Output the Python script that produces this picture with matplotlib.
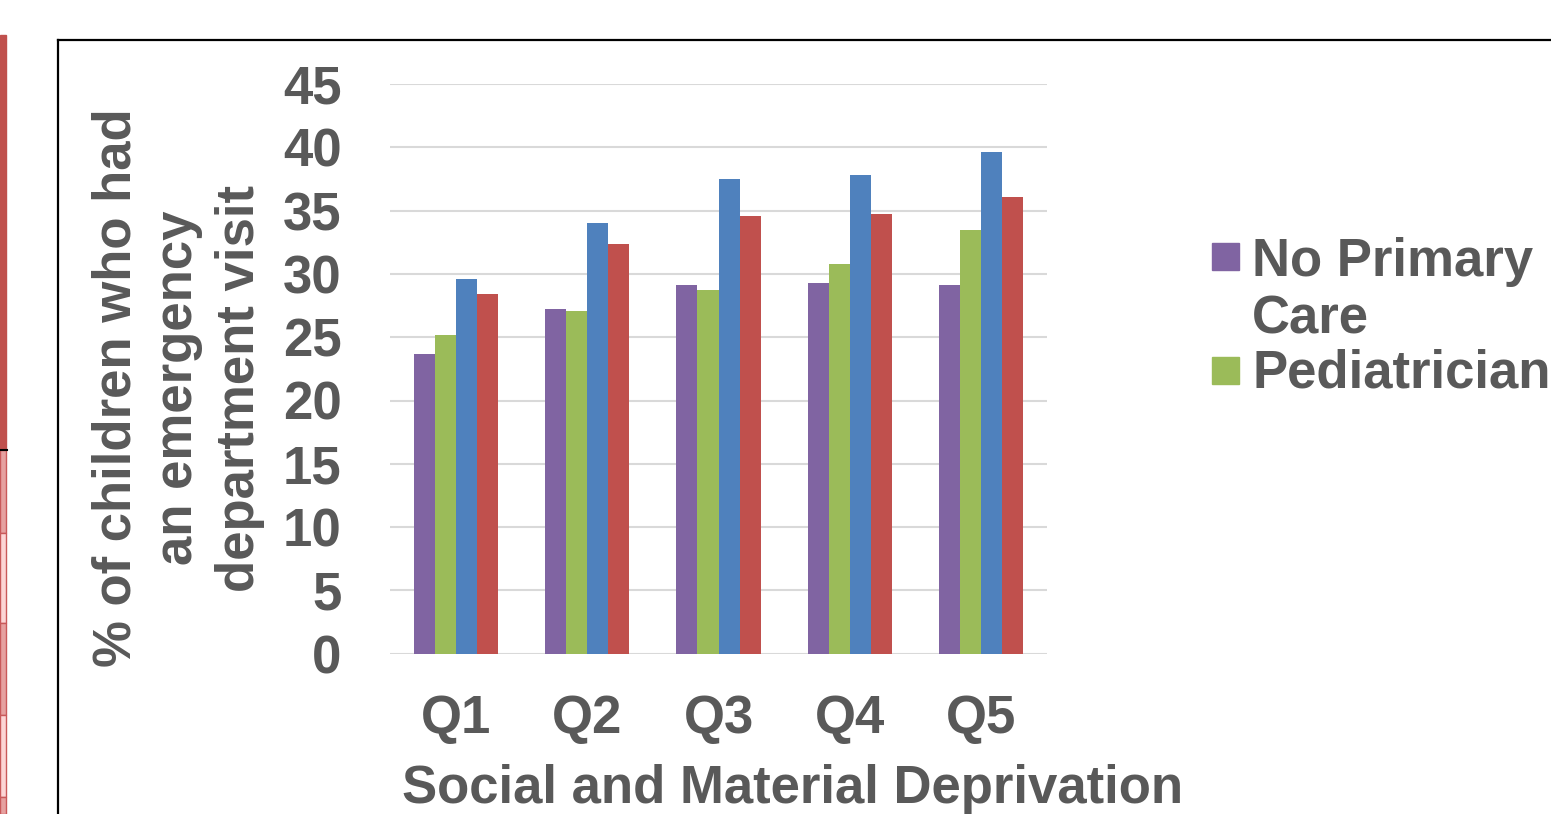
import numpy as np
import matplotlib.pyplot as plt
from matplotlib.patches import Rectangle
from matplotlib.lines import Line2D

# --- data: % of children with an ED visit, by deprivation quintile ---
quintiles = ["Q1", "Q2", "Q3", "Q4", "Q5"]
no_primary_care = [23.7, 27.2, 29.1, 29.3, 29.1]
pediatrician = [25.2, 27.1, 28.7, 30.8, 33.5]
series_c = [29.6, 34.0, 37.5, 37.8, 39.6]
series_d = [28.4, 32.4, 34.6, 34.7, 36.1]

legend_labels = ["No Primary\nCare", "Pediatrician"]
colors = ["#8064A2", "#9BBB59", "#4F81BD", "#C0504D"]
TXT = "#595959"
FS = 38

plt.rcParams["font.family"] = ["Liberation Sans", "DejaVu Sans"]
plt.rcParams["font.weight"] = "bold"

W, H = 1551, 814
fig = plt.figure(figsize=(W / 100, H / 100), dpi=100)


def fx(px):
    return px / W


def fy(py):
    return 1 - py / H


ax = fig.add_axes([fx(390), fy(653.7), fx(1047) - fx(390), fy(84) - fy(653.7)])

x = np.arange(len(quintiles))
w = 0.16
series = [no_primary_care, pediatrician, series_c, series_d]
for i, (vals, c) in enumerate(zip(series, colors)):
    ax.bar(x + (i - 1.5) * w, vals, width=w, color=c, edgecolor="none", zorder=3)

ax.set_xlim(-0.5, len(quintiles) - 0.5)
ax.set_ylim(0, 45)
ax.set_yticks(range(0, 46, 5))
ax.set_xticks(x)
ax.set_xticklabels(quintiles)
ax.tick_params(axis="y", length=0, pad=35, labelsize=FS, labelcolor=TXT)
ax.tick_params(axis="x", length=0, pad=29, labelsize=FS, labelcolor=TXT)
ax.yaxis.grid(True, color="#D9D9D9", linewidth=1.5, zorder=0)
ax.set_axisbelow(True)
for s in ax.spines.values():
    s.set_visible(False)

# axis titles
fig.text(fx(178), fy(388), "% of children who had\nan emergency\ndepartment visit",
         rotation=90, ha="center", va="center", multialignment="center",
         fontsize=FS, color=TXT, linespacing=1.3)
fig.text(fx(793), fy(803), "Social and Material Deprivation",
         ha="center", va="baseline", fontsize=FS, color=TXT)

# legend (only the first two entries fit)
sq = 27
for (ytop, c) in [(243, colors[0]), (357, colors[1])]:
    fig.patches.append(Rectangle((fx(1212), fy(ytop + sq)), fx(sq), sq / H,
                                 transform=fig.transFigure, color=c))
fig.text(fx(1252), fy(334), legend_labels[0], ha="left", va="baseline",
         fontsize=FS, color=TXT, linespacing=1.2)
fig.text(fx(1252), fy(387), legend_labels[1], ha="left", va="baseline",
         fontsize=FS, color=TXT)

# chart frame
fig.add_artist(Line2D([fx(58), 1], [fy(40), fy(40)], color="black", lw=1.6,
                      transform=fig.transFigure))
fig.add_artist(Line2D([fx(58), fx(58)], [fy(40), 0], color="black", lw=1.6,
                      transform=fig.transFigure))

# neighbouring table edge on the left
fig.patches.append(Rectangle((0, fy(450)), fx(6), fy(35) - fy(450),
                             transform=fig.transFigure, color="#C0504D"))
cells = [(450, 533, "#E6A1A0"), (533, 623, "#FCD5D5"), (623, 715, "#E6A1A0"),
         (715, 797, "#FCD5D5"), (797, 814, "#E6A1A0")]
for y0, y1, c in cells:
    fig.patches.append(Rectangle((0, fy(y1)), fx(6), fy(y0) - fy(y1),
                                 transform=fig.transFigure, facecolor=c,
                                 edgecolor="#C9595A", lw=1))
fig.add_artist(Line2D([0, fx(7)], [fy(450), fy(450)], color="black", lw=1.5,
                      transform=fig.transFigure))

fig.savefig("out.png", dpi=100)
